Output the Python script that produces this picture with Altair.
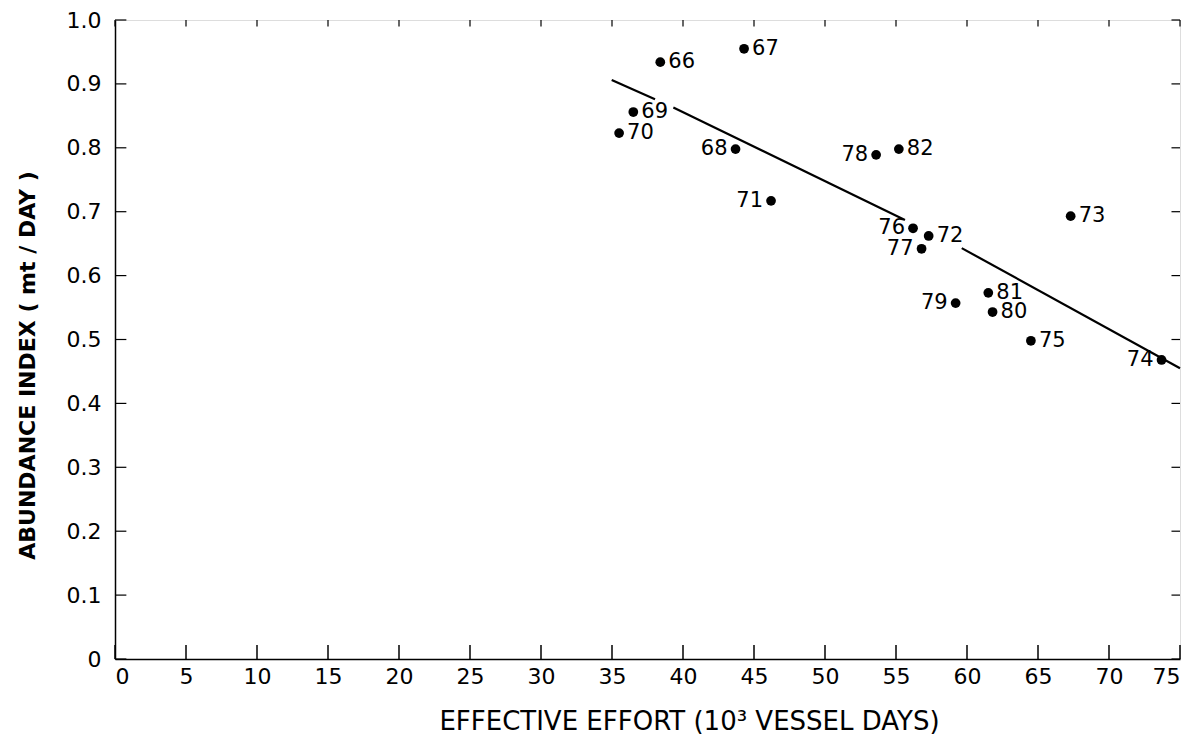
import altair as alt
import pandas as pd

# ---- data ----
years = ["66", "67", "68", "69", "70", "71", "72", "73", "74", "75", "76", "77", "78", "79", "80", "81", "82"]
effort = [38.4, 44.3, 43.7, 36.5, 35.5, 46.2, 57.3, 67.3, 73.7, 64.5, 56.2, 56.8, 53.6, 59.2, 61.8, 61.5, 55.2]
abundance = [0.934, 0.955, 0.798, 0.856, 0.823, 0.717, 0.662, 0.693, 0.468, 0.498, 0.674, 0.642, 0.789, 0.557, 0.543, 0.573, 0.798]
label_side = ["R", "R", "L", "R", "R", "L", "R", "R", "L", "R", "L", "L", "L", "L", "R", "R", "R"]

# fitted line, drawn in three pieces (gaps around labels 69 and 72)
line_seg = [1, 1, 2, 2, 3, 3]
line_x = [34.98, 38.03, 39.32, 55.63, 59.63, 75.0]
line_y = [0.906, 0.876, 0.863, 0.687, 0.643, 0.455]

x_ticks = [0, 5, 10, 15, 20, 25, 30, 35, 40, 45, 50, 55, 60, 65, 70, 75]
y_ticks = [0, 0.1, 0.2, 0.3, 0.4, 0.5, 0.6, 0.7, 0.8, 0.9, 1.0]

pts = pd.DataFrame({"x": effort, "y": abundance, "yr": years, "side": label_side})
line_df = pd.DataFrame({"seg": line_seg, "x": line_x, "y": line_y})
xt = pd.DataFrame({"x": x_ticks})
yt = pd.DataFrame({"y": y_ticks})

FONT = "DejaVu Sans"
xs = alt.Scale(domain=[0, 75], nice=False, zero=False)
ys = alt.Scale(domain=[0, 1.0], nice=False, zero=False)

x_axis = alt.Axis(
    values=x_ticks, ticks=False, grid=False, domainColor="black", domainWidth=1.5,
    labelFont=FONT, labelFontSize=22, labelColor="black", labelPadding=7,
    title="EFFECTIVE EFFORT (10³ VESSEL DAYS)", titleFont=FONT, titleFontSize=26,
    titleFontWeight="normal", titleColor="black", titleX=574, titleY=62,
    titleAlign="center", titleBaseline="middle",
)
y_axis = alt.Axis(
    values=y_ticks, ticks=False, grid=False, domainColor="black", domainWidth=1.5,
    labelFont=FONT, labelFontSize=22, labelColor="black", labelPadding=14,
    labelExpr="datum.value == 0 ? '0' : format(datum.value, '.1f')",
    title="ABUNDANCE INDEX ( mt / DAY )", titleFont=FONT, titleFontSize=22,
    titleFontWeight="bold", titleColor="black", titleX=-88, titleY=345,
    titleAngle=-90, titleAlign="center", titleBaseline="middle",
)

base_pts = alt.Chart(pts)
points = base_pts.mark_circle(size=95, color="black", opacity=1).encode(
    x=alt.X("x:Q", scale=xs, axis=x_axis),
    y=alt.Y("y:Q", scale=ys, axis=y_axis),
)
labels_r = base_pts.transform_filter("datum.side == 'R'").mark_text(
    align="left", baseline="middle", dx=8, font=FONT, fontSize=21, color="black"
).encode(x=alt.X("x:Q", scale=xs), y=alt.Y("y:Q", scale=ys), text="yr:N")
labels_l = base_pts.transform_filter("datum.side == 'L'").mark_text(
    align="right", baseline="middle", dx=-8, font=FONT, fontSize=21, color="black"
).encode(x=alt.X("x:Q", scale=xs), y=alt.Y("y:Q", scale=ys), text="yr:N")

line = alt.Chart(line_df).mark_line(color="black", strokeWidth=2.2).encode(
    x=alt.X("x:Q", scale=xs), y=alt.Y("y:Q", scale=ys), detail="seg:N"
)

# inward ticks
xt_bottom = alt.Chart(xt).transform_calculate(y0="0", y1="0.022").mark_rule(
    color="black", strokeWidth=1.5
).encode(x=alt.X("x:Q", scale=xs), y=alt.Y("y0:Q", scale=ys), y2="y1:Q")
xt_top = alt.Chart(xt).transform_calculate(y0="1", y1="0.99").mark_rule(
    color="black", strokeWidth=1.2
).encode(x=alt.X("x:Q", scale=xs), y=alt.Y("y0:Q", scale=ys), y2="y1:Q")
yt_left = alt.Chart(yt).transform_calculate(x0="0", x1="0.8").mark_rule(
    color="black", strokeWidth=1.2
).encode(y=alt.Y("y:Q", scale=ys), x=alt.X("x0:Q", scale=xs), x2="x1:Q")
yt_right = alt.Chart(yt).transform_calculate(x0="75", x1="74.4").mark_rule(
    color="black", strokeWidth=1.2
).encode(y=alt.Y("y:Q", scale=ys), x=alt.X("x0:Q", scale=xs), x2="x1:Q")

chart = alt.layer(
    points, line, labels_r, labels_l, xt_bottom, xt_top, yt_left, yt_right
).properties(
    width=1065, height=639,
    autosize=alt.AutoSizeParams(type="none"),
    padding={"left": 107, "top": 12, "right": 16, "bottom": 76},
).configure_view(
    stroke="black", strokeWidth=1.5
).configure(background="white")

chart.save("out.html", embed_options={"renderer": "svg", "actions": False})
